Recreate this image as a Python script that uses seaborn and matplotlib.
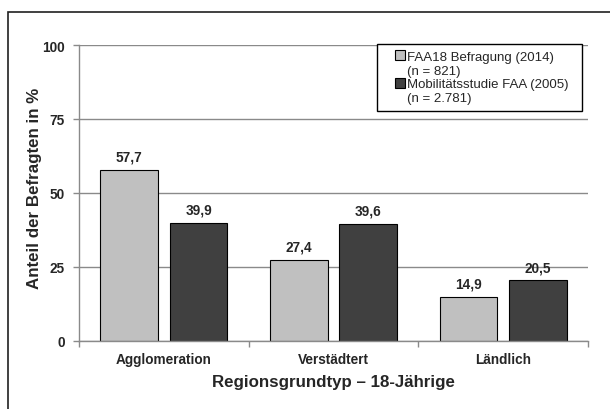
import matplotlib
matplotlib.use("Agg")
import matplotlib.pyplot as plt
import matplotlib.patches as mpatches
from matplotlib.legend_handler import HandlerPatch
import seaborn as sns
import pandas as pd

categories = ["Agglomeration", "Verstädtert", "Ländlich"]
series_names = ["FAA18 Befragung (2014)\n(n = 821)",
                "Mobilitätsstudie FAA (2005)  \n(n = 2.781)"]
faa18_values = [57.7, 27.4, 14.9]
mobil_values = [39.9, 39.6, 20.5]
y_ticks = [0, 25, 50, 75, 100]
colors = ["#C0C0C0", "#404040"]

df = pd.DataFrame({
    "Region": categories * 2,
    "Serie": [series_names[0]] * 3 + [series_names[1]] * 3,
    "Wert": faa18_values + mobil_values,
})

sns.set_theme(style="white")
plt.rcParams["font.family"] = ["Liberation Sans", "DejaVu Sans"]

fig = plt.figure(figsize=(6.1, 4.1), dpi=100)
ax = fig.add_axes([79 / 610, 68 / 410, 509 / 610, 296 / 410])

sns.barplot(data=df, x="Region", y="Wert", hue="Serie", order=categories,
            hue_order=series_names, palette=colors, width=0.82, gap=0.17,
            edgecolor="black", linewidth=0.8, saturation=1, ax=ax, legend=True)

ax.set_ylim(0, 100)
ax.set_xlim(-0.5, 2.5)
ax.set_yticks(y_ticks)
ax.set_yticklabels([str(t) for t in y_ticks], fontsize=9.8, fontweight="bold")
ax.yaxis.grid(True, color="#8a8a8a", linewidth=1)
ax.set_axisbelow(True)
ax.tick_params(axis="y", length=4, width=1, color="#8a8a8a", pad=6, left=True)

ax.set_xticks(range(len(categories)))
ax.set_xticklabels(categories, fontsize=9.8, fontweight="bold")
ax.set_xticks([-0.5, 0.5, 1.5, 2.5], minor=True)
ax.tick_params(axis="x", which="major", length=0, pad=8)
ax.tick_params(axis="x", which="minor", length=4, width=1, color="#8a8a8a", bottom=True)

for side in ["top", "right"]:
    ax.spines[side].set_visible(False)
for side in ["left", "bottom"]:
    ax.spines[side].set_color("#8a8a8a")
    ax.spines[side].set_linewidth(1)

ax.set_xlabel("Regionsgrundtyp \u2013 18-Jährige", fontsize=12.2, fontweight="bold", labelpad=6)
ax.set_ylabel("Anteil der Befragten in %", fontsize=12.2, fontweight="bold")
ax.yaxis.set_label_coords(-0.0727, 0.5186)

for container in ax.containers:
    ax.bar_label(container, labels=[f"{v:.1f}".replace(".", ",") for v in container.datavalues],
                 padding=4.5, fontsize=9.8, fontweight="bold")


def raised_square(legend, orig_handle, xdescent, ydescent, width, height, fontsize):
    size = 0.72 * fontsize
    return mpatches.Rectangle((-xdescent + width - size, -ydescent + 0.6 * fontsize + 1),
                              size, size)


handles, labels = ax.get_legend_handles_labels()
leg = ax.legend(handles, labels, loc="upper right", bbox_to_anchor=(0.988, 1.003),
                frameon=True, fancybox=False, fontsize=9.5, handlelength=1.62,
                handleheight=0.9, handletextpad=0.15, borderpad=0.5, labelspacing=0.15,
                borderaxespad=0,
                handler_map={mpatches.Rectangle: HandlerPatch(patch_func=raised_square)})
leg.get_frame().set_edgecolor("black")
leg.get_frame().set_linewidth(1)
leg.get_frame().set_alpha(1)

# outer chart frame
fig.patches.append(mpatches.Rectangle((8 / 610, -0.2), 1.2, (410 - 13) / 410 + 0.2,
                                      transform=fig.transFigure, fill=False,
                                      edgecolor="#202020", linewidth=1.2))

fig.savefig("out.png", dpi=100)
